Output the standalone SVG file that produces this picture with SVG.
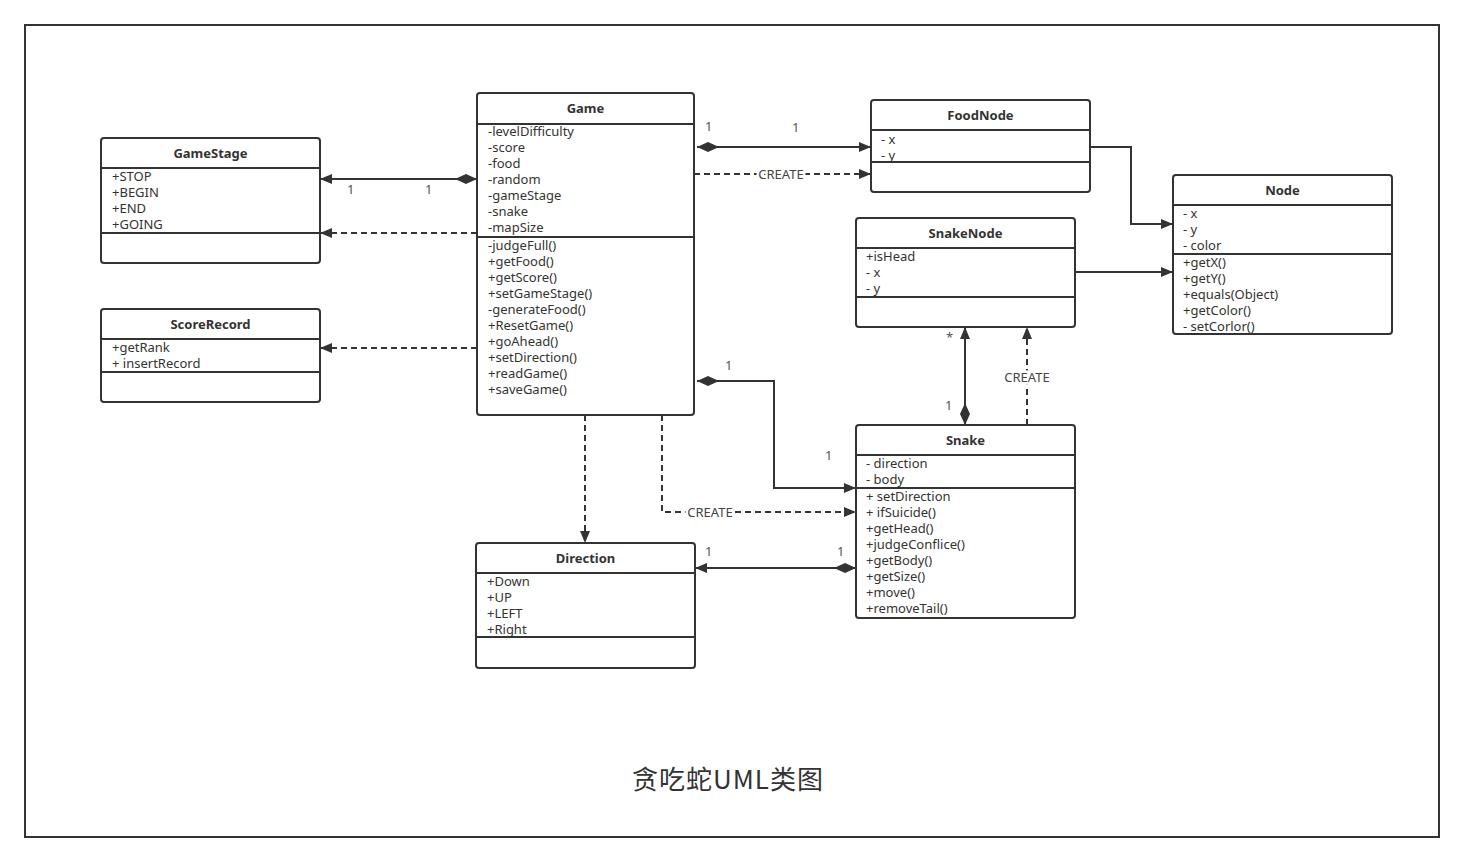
<svg xmlns="http://www.w3.org/2000/svg" width="1464" height="862" viewBox="0 0 1464 862">
<defs>
<style>
.box{fill:#fff;stroke:#333;stroke-width:2}
.div{stroke:#333;stroke-width:2}
.t{font-family:"Noto Sans","Noto Sans CJK SC",sans-serif;font-size:13px;fill:#333}
.h{font-family:"Noto Sans","Noto Sans CJK SC",sans-serif;font-size:13px;font-weight:bold;fill:#333;text-anchor:middle}
.ln{fill:none;stroke:#333;stroke-width:2}
.dash{fill:none;stroke:#333;stroke-width:2;stroke-dasharray:6 4}
.lbl{font-family:"Noto Sans","Noto Sans CJK SC",sans-serif;font-size:13px;fill:#555}
.cl{font-family:"Noto Sans","Noto Sans CJK SC",sans-serif;font-size:13px;fill:#444;text-anchor:middle;stroke:#fff;stroke-width:5;paint-order:stroke}
</style>
<marker id="arrow" viewBox="0 0 12 10" refX="12" refY="5" markerWidth="12" markerHeight="10" markerUnits="userSpaceOnUse" orient="auto"><path d="M0,0 L12,5 L0,10 Z" fill="#333"/></marker>
<marker id="diamond" viewBox="0 0 22 10" refX="0" refY="5" markerWidth="22" markerHeight="10" markerUnits="userSpaceOnUse" orient="auto"><path d="M0,5 L11,0 L22,5 L11,10 Z" fill="#333"/></marker>
</defs>
<rect x="0" y="0" width="1464" height="862" fill="#fff"/>
<rect x="25" y="25" width="1414" height="812" fill="none" stroke="#333" stroke-width="2"/>

<g id="connectors">
<path class="ln" d="M477,179 L320,179" marker-start="url(#diamond)" marker-end="url(#arrow)"/>
<text class="lbl" x="347" y="194">1</text>
<text class="lbl" x="425" y="194">1</text>
<path class="dash" d="M477,233 L320,233" marker-end="url(#arrow)"/>
<path class="dash" d="M477,348 L320,348" marker-end="url(#arrow)"/>
<path class="ln" d="M697,147 L871,147" marker-start="url(#diamond)" marker-end="url(#arrow)"/>
<text class="lbl" x="705" y="131">1</text>
<text class="lbl" x="792" y="132">1</text>
<path class="dash" d="M694,174 L871,174" marker-end="url(#arrow)"/>
<text class="cl" x="781" y="179">CREATE</text>
<path class="ln" d="M1090,147 L1131,147 L1131,224 L1173,224" marker-end="url(#arrow)"/>
<path class="ln" d="M1075,272 L1173,272" marker-end="url(#arrow)"/>
<path class="ln" d="M965,425 L965,327" marker-start="url(#diamond)" marker-end="url(#arrow)"/>
<text class="lbl" x="946" y="342">*</text>
<text class="lbl" x="945" y="410">1</text>
<path class="dash" d="M1027,425 L1027,327" marker-end="url(#arrow)"/>
<text class="cl" x="1027" y="382">CREATE</text>
<path class="ln" d="M697,381 L774,381 L774,488 L856,488" marker-start="url(#diamond)" marker-end="url(#arrow)"/>
<text class="lbl" x="725" y="370">1</text>
<text class="lbl" x="825" y="460">1</text>
<path class="dash" d="M662,415 L662,512 L856,512" marker-end="url(#arrow)"/>
<text class="cl" x="710" y="517">CREATE</text>
<path class="dash" d="M585,415 L585,543" marker-end="url(#arrow)"/>
<path class="ln" d="M856,568 L695,568" marker-start="url(#diamond)" marker-end="url(#arrow)"/>
<text class="lbl" x="705" y="556">1</text>
<text class="lbl" x="837" y="556">1</text>
</g>

<g id="Game">
<rect class="box" x="477" y="93" width="217" height="322" rx="3"/>
<line class="div" x1="477" y1="124" x2="694" y2="124"/>
<line class="div" x1="477" y1="237" x2="694" y2="237"/>
<text class="h" x="585.5" y="112.5">Game</text>
<text class="t" x="488" y="135.5">-levelDifficulty</text>
<text class="t" x="488" y="151.5">-score</text>
<text class="t" x="488" y="167.5">-food</text>
<text class="t" x="488" y="183.5">-random</text>
<text class="t" x="488" y="199.5">-gameStage</text>
<text class="t" x="488" y="215.5">-snake</text>
<text class="t" x="488" y="231.5">-mapSize</text>
<text class="t" x="488" y="249.5">-judgeFull()</text>
<text class="t" x="488" y="265.5">+getFood()</text>
<text class="t" x="488" y="281.5">+getScore()</text>
<text class="t" x="488" y="297.5">+setGameStage()</text>
<text class="t" x="488" y="313.5">-generateFood()</text>
<text class="t" x="488" y="329.5">+ResetGame()</text>
<text class="t" x="488" y="345.5">+goAhead()</text>
<text class="t" x="488" y="361.5">+setDirection()</text>
<text class="t" x="488" y="377.5">+readGame()</text>
<text class="t" x="488" y="393.5">+saveGame()</text>
</g>

<g id="GameStage">
<rect class="box" x="101" y="138" width="219" height="125" rx="3"/>
<line class="div" x1="101" y1="168" x2="320" y2="168"/>
<line class="div" x1="101" y1="233" x2="320" y2="233"/>
<text class="h" x="210.5" y="157.5">GameStage</text>
<text class="t" x="112" y="180.5">+STOP</text>
<text class="t" x="112" y="196.5">+BEGIN</text>
<text class="t" x="112" y="212.5">+END</text>
<text class="t" x="112" y="228.5">+GOING</text>
</g>

<g id="ScoreRecord">
<rect class="box" x="101" y="309" width="219" height="93" rx="3"/>
<line class="div" x1="101" y1="339" x2="320" y2="339"/>
<line class="div" x1="101" y1="372" x2="320" y2="372"/>
<text class="h" x="210.5" y="328.5">ScoreRecord</text>
<text class="t" x="112" y="351.5">+getRank</text>
<text class="t" x="112" y="367.5">+ insertRecord</text>
</g>

<g id="FoodNode">
<rect class="box" x="871" y="100" width="219" height="92" rx="3"/>
<line class="div" x1="871" y1="130" x2="1090" y2="130"/>
<line class="div" x1="871" y1="162" x2="1090" y2="162"/>
<text class="h" x="980.5" y="119.5">FoodNode</text>
<text class="t" x="881" y="143.5">- x</text>
<text class="t" x="881" y="159.5">- y</text>
</g>

<g id="Node">
<rect class="box" x="1173" y="175" width="219" height="159" rx="3"/>
<line class="div" x1="1173" y1="205" x2="1392" y2="205"/>
<line class="div" x1="1173" y1="254" x2="1392" y2="254"/>
<text class="h" x="1282.5" y="194.5">Node</text>
<text class="t" x="1183" y="217.5">- x</text>
<text class="t" x="1183" y="233.5">- y</text>
<text class="t" x="1183" y="249.5">- color</text>
<text class="t" x="1183" y="266.5">+getX()</text>
<text class="t" x="1183" y="282.5">+getY()</text>
<text class="t" x="1183" y="298.5">+equals(Object)</text>
<text class="t" x="1183" y="314.5">+getColor()</text>
<text class="t" x="1183" y="330.5">- setCorlor()</text>
</g>

<g id="SnakeNode">
<rect class="box" x="856" y="218" width="219" height="109" rx="3"/>
<line class="div" x1="856" y1="248" x2="1075" y2="248"/>
<line class="div" x1="856" y1="297" x2="1075" y2="297"/>
<text class="h" x="965.5" y="237.5">SnakeNode</text>
<text class="t" x="866" y="260.5">+isHead</text>
<text class="t" x="866" y="276.5">- x</text>
<text class="t" x="866" y="292.5">- y</text>
</g>

<g id="Snake">
<rect class="box" x="856" y="425" width="219" height="193" rx="3"/>
<line class="div" x1="856" y1="455" x2="1075" y2="455"/>
<line class="div" x1="856" y1="488" x2="1075" y2="488"/>
<text class="h" x="965.5" y="444.5">Snake</text>
<text class="t" x="866" y="467.5">- direction</text>
<text class="t" x="866" y="483.5">- body</text>
<text class="t" x="866" y="500.5">+ setDirection</text>
<text class="t" x="866" y="516.5">+ ifSuicide()</text>
<text class="t" x="866" y="532.5">+getHead()</text>
<text class="t" x="866" y="548.5">+judgeConflice()</text>
<text class="t" x="866" y="564.5">+getBody()</text>
<text class="t" x="866" y="580.5">+getSize()</text>
<text class="t" x="866" y="596.5">+move()</text>
<text class="t" x="866" y="612.5">+removeTail()</text>
</g>

<g id="Direction">
<rect class="box" x="476" y="543" width="219" height="125" rx="3"/>
<line class="div" x1="476" y1="573" x2="695" y2="573"/>
<line class="div" x1="476" y1="637" x2="695" y2="637"/>
<text class="h" x="585.5" y="562.5">Direction</text>
<text class="t" x="487" y="585.5">+Down</text>
<text class="t" x="487" y="601.5">+UP</text>
<text class="t" x="487" y="617.5">+LEFT</text>
<text class="t" x="487" y="633.5">+Right</text>
</g>

<g id="title">
<text x="728" y="789" font-family="'Noto Sans CJK SC',sans-serif" font-size="26" letter-spacing="1" fill="#333" text-anchor="middle">贪吃蛇UML类图</text>
</g>
</svg>
